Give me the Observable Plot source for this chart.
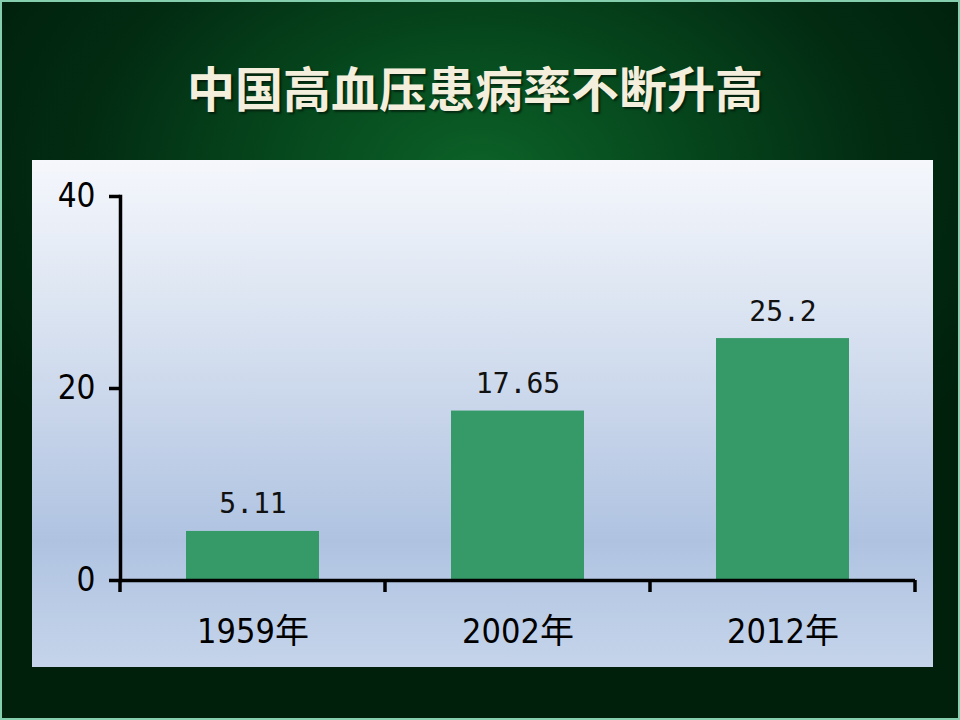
<!DOCTYPE html>
<html>
<head>
<meta charset="utf-8">
<script src="https://cdn.jsdelivr.net/npm/d3@7"></script>
<script src="https://cdn.jsdelivr.net/npm/@observablehq/plot@0.6"></script>
<style>
  html, body { margin: 0; padding: 0; }
  #page {
    position: relative; width: 960px; height: 720px; box-sizing: border-box;
    border: 2px solid #86cfae;
    background: radial-gradient(ellipse 60% 55% at 50% 24%, #0c6228 0%, #06481d 35%, #022b12 70%, #00200c 100%);
    overflow: hidden;
  }
  #title {
    position: absolute; left: 0; top: 56px; width: 960px; text-align: center;
    font-family: "Noto Sans CJK SC", sans-serif; font-weight: 700; font-size: 48px;
    color: #f3efdc; line-height: 56px; text-shadow: 2px 2px 2px rgba(0,0,0,0.5);
    padding-right: 14px; box-sizing: border-box;
  }
  #panel {
    position: absolute; left: 30px; top: 158px; width: 901px; height: 507px;
    background: linear-gradient(to bottom, #f5f7fc 0%, #dfe7f3 25%, #c8d5ea 50%, #afc3e1 75%, #c5d4ea 100%);
  }
</style>
</head>
<body>
<div id="page">
  <div id="title">中国高血压患病率不断升高</div>
  <div id="panel"></div>
</div>
<script>
const years = ["1959年", "2002年", "2012年"];
const rates = [5.11, 17.65, 25.2];
const yTicks = [0, 20, 40];

const data = years.map((y, i) => ({year: y, rate: rates[i], label: String(rates[i])}));

// boundary ticks between categories, positioned from the band scale
function boundaryTicks(index, scales, values, dims) {
  const x = scales.x;
  const step = x(years[1]) - x(years[0]);
  const bw = typeof x.bandwidth === "function" ? x.bandwidth() : (x.bandwidth ?? step * 0.5);
  const off = (step - bw) / 2;
  const pos = years.map(c => x(c) - off);
  pos.push(x(years[years.length - 1]) + bw + off);
  const y0 = scales.y(0);
  const g = d3.create("svg:g");
  g.selectAll("line").data(pos).join("line")
    .attr("x1", d => d).attr("x2", d => d)
    .attr("y1", y0).attr("y2", y0 + 12)
    .attr("stroke", "#000").attr("stroke-width", 3.5);
  return g.node();
}

const chart = Plot.plot({
  width: 901,
  height: 507,
  marginLeft: 88,
  marginRight: 18,
  marginTop: 36,
  marginBottom: 87,
  style: {background: "transparent", overflow: "visible"},
  x: {domain: years, paddingInner: 0.5, paddingOuter: 0.25, label: null},
  y: {domain: [0, 40], label: null},
  marks: [
    Plot.barY(data, {x: "year", y: "rate", fill: "#369a68"}),
    Plot.text(data, {x: "year", y: "rate", text: "label", lineAnchor: "bottom", dy: -18,
      fontSize: 28, fill: "#111", fontFamily: "DejaVu Sans Mono, Liberation Mono, monospace"}),
    Plot.axisY({ticks: yTicks, tickSize: 11, tickPadding: 14, strokeWidth: 3.5, fontSize: 33,
      fill: "#000", label: null,
      fontFamily: "Liberation Sans Narrow, DejaVu Sans Condensed, DejaVu Sans, sans-serif"}),
    Plot.axisX({tickSize: 0, tickPadding: 38, fontSize: 34, fill: "#000", label: null,
      fontFamily: "Liberation Sans Narrow, DejaVu Sans Condensed, DejaVu Sans, Noto Sans CJK SC, sans-serif"}),
    Plot.frame({anchor: "left", stroke: "#000", strokeWidth: 3.5}),
    Plot.ruleY([0], {stroke: "#000", strokeWidth: 3.5}),
    boundaryTicks
  ]
});
document.getElementById("panel").appendChild(chart);
</script>
</body>
</html>
